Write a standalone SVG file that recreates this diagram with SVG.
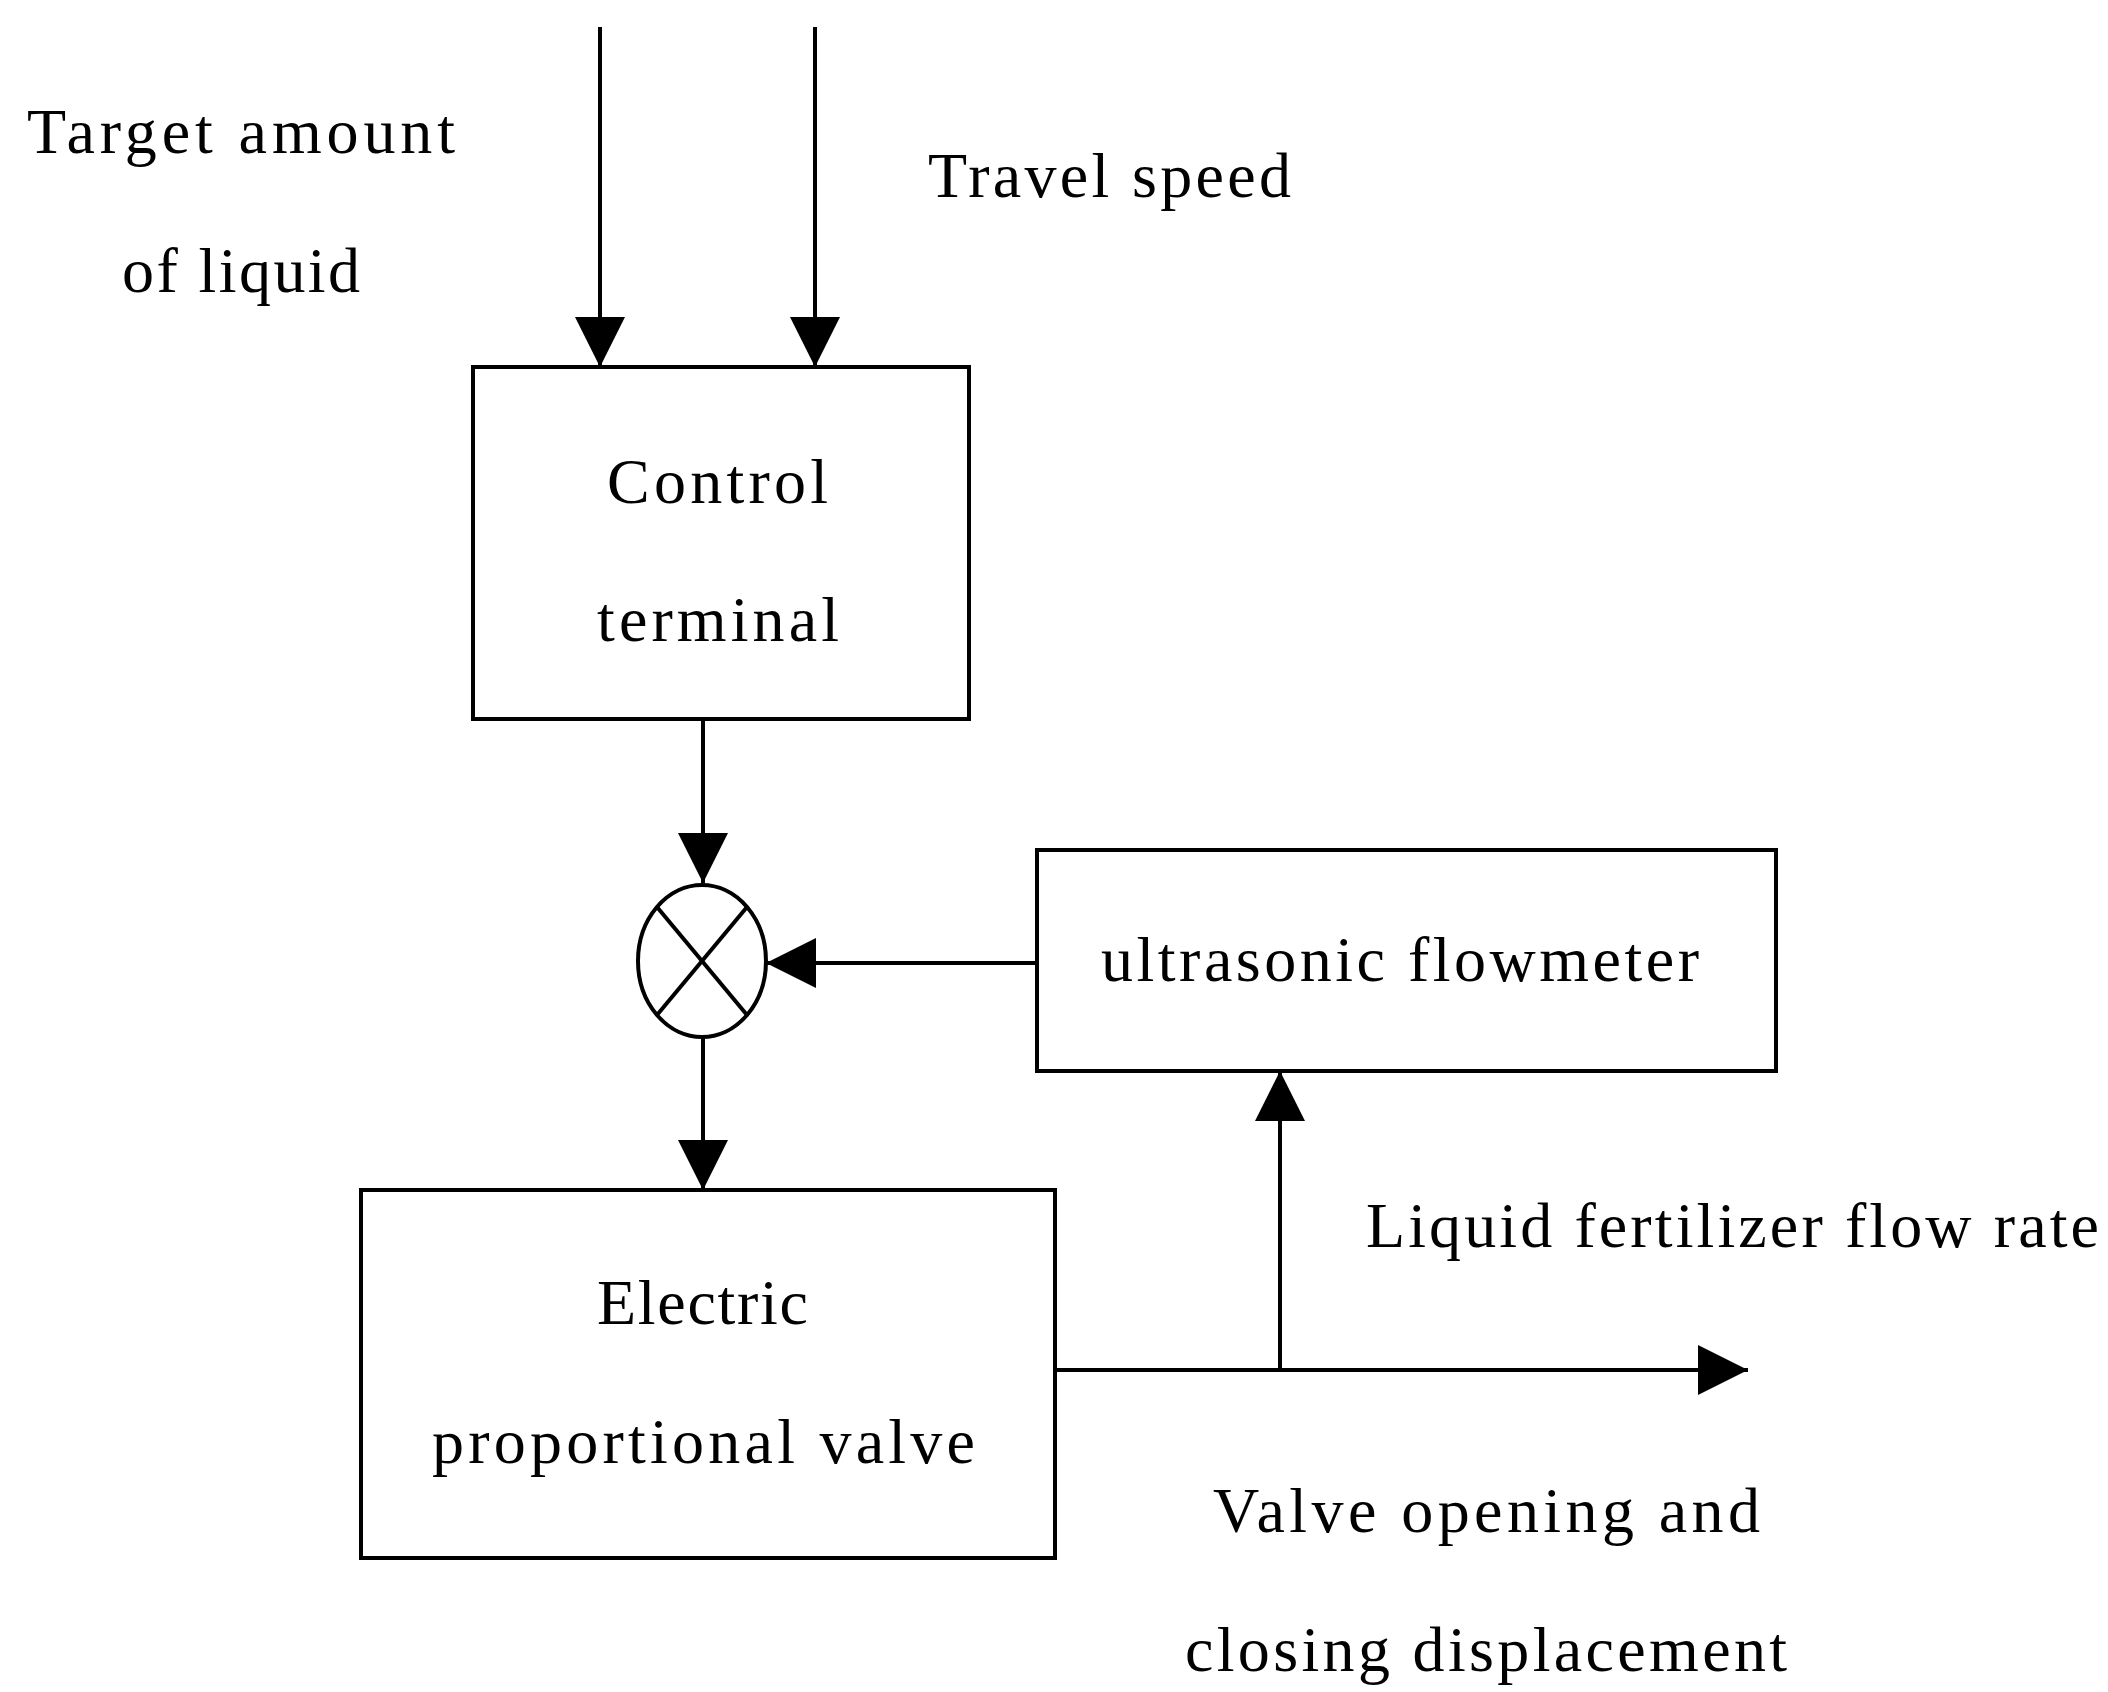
<svg xmlns="http://www.w3.org/2000/svg" width="2108" height="1692" viewBox="0 0 2108 1692">
<style>
text{font-family:"Liberation Serif",serif;font-size:64px;fill:#000}
.b{fill:#fff;stroke:#000;stroke-width:4}
.l{stroke:#000;stroke-width:4;fill:none}
</style>
<defs><marker id="a" markerUnits="userSpaceOnUse" markerWidth="52" markerHeight="52" refX="50" refY="25" orient="auto"><path d="M0,0 L50,25 L0,50Z" fill="#000"/></marker></defs>
<rect width="2108" height="1692" fill="#fff"/>
<g id="connectors">
<line class="l" x1="600" y1="27" x2="600" y2="367" marker-end="url(#a)"/>
<line class="l" x1="815" y1="27" x2="815" y2="367" marker-end="url(#a)"/>
<line class="l" x1="703" y1="719" x2="703" y2="883" marker-end="url(#a)"/>
<line class="l" x1="703" y1="1037" x2="703" y2="1190" marker-end="url(#a)"/>
<line class="l" x1="1037" y1="963" x2="766" y2="963" marker-end="url(#a)"/>
<line class="l" x1="1055" y1="1370" x2="1748" y2="1370" marker-end="url(#a)"/>
<line class="l" x1="1280" y1="1370" x2="1280" y2="1071" marker-end="url(#a)"/>
</g>
<g id="labels">
<text x="27" y="153" textLength="428">Target amount</text>
<text x="122" y="292" textLength="238">of liquid</text>
<text x="928" y="197" textLength="363">Travel speed</text>
<text x="1366" y="1247" textLength="733">Liquid fertilizer flow rate</text>
<text x="1213" y="1532" textLength="547">Valve opening and</text>
<text x="1185" y="1671" textLength="602">closing displacement</text>
</g>
<g id="control">
<rect class="b" x="473" y="367" width="496" height="352"/>
<text x="607" y="503" textLength="221">Control</text>
<text x="597" y="641" textLength="242">terminal</text>
</g>
<g id="sum">
<ellipse class="b" cx="702" cy="961" rx="64" ry="76"/>
<line class="l" x1="657" y1="907" x2="747" y2="1015" stroke-width="3"/>
<line class="l" x1="747" y1="907" x2="657" y2="1015" stroke-width="3"/>
</g>
<g id="flowmeter">
<rect class="b" x="1037" y="850" width="739" height="221"/>
<text x="1101" y="981" textLength="598">ultrasonic flowmeter</text>
</g>
<g id="valve">
<rect class="b" x="361" y="1190" width="694" height="368"/>
<text x="597" y="1324" textLength="211">Electric</text>
<text x="432" y="1463" textLength="543">proportional valve</text>
</g>
</svg>
